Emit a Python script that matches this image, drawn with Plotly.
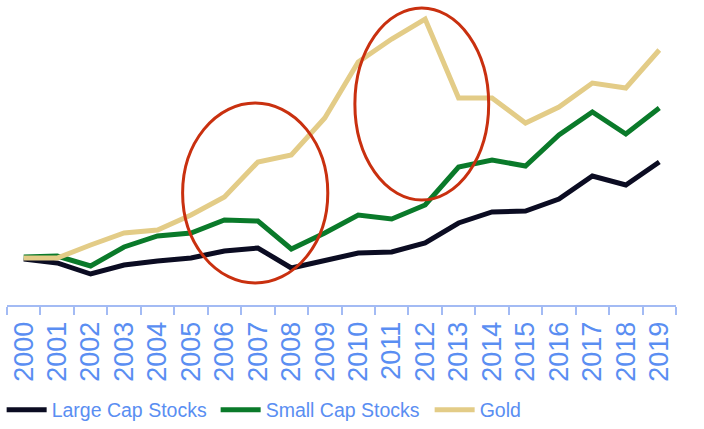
import plotly.graph_objects as go

years = [str(y) for y in range(2000, 2020)]
large_cap = [92, 84, 62, 80, 88, 94, 108, 114, 74, 90, 104, 106, 124, 164, 186, 188, 212, 258, 240, 286]
small_cap = [96, 98, 78, 116, 138, 144, 170, 168, 112, 144, 180, 172, 200, 276, 290, 278, 340, 386, 342, 394]
gold = [94, 94, 120, 144, 150, 180, 216, 286, 300, 374, 486, 532, 572, 414, 414, 364, 396, 444, 434, 510]

series = [
    ("Large Cap Stocks", large_cap, "#0b0c22"),
    ("Small Cap Stocks", small_cap, "#0a7a2a"),
    ("Gold", gold, "#e3cc87"),
]

fig = go.Figure()
for name, vals, col in series:
    fig.add_trace(go.Scatter(x=years, y=vals, name=name, mode="lines",
                             line=dict(color=col, width=5)))

red = "#c9300f"
fig.add_shape(type="circle", xref="x", yref="y", x0=4.75, x1=9.09, y0=44, y1=404,
              line=dict(color=red, width=3))
fig.add_shape(type="circle", xref="x", yref="y", x0=9.9, x1=13.9, y0=210, y1=594,
              line=dict(color=red, width=3))

blue = "#5a8ef2"
fig.update_layout(
    width=704, height=429,
    margin=dict(l=7, r=28, t=5, b=124, autoexpand=False),
    plot_bgcolor="white", paper_bgcolor="white",
    showlegend=True,
    legend=dict(orientation="h", x=-0.008, xanchor="left", y=-0.35, yanchor="middle",
                font=dict(family="Liberation Sans, Arial", size=19.5, color=blue),
                itemwidth=40, entrywidth=159, traceorder="normal"),
    xaxis=dict(type="category", showgrid=False, zeroline=False, showline=True,
               linecolor="#a3bbf4", linewidth=2, ticks="outside", tickson="boundaries",
               ticklen=8, tickcolor="#a3bbf4", tickwidth=2, tickangle=-90, automargin=False,
               ticklabelstandoff=4,
               tickfont=dict(family="Liberation Sans, Arial", size=27, color=blue),
               range=[-0.5, 19.5]),
    yaxis=dict(visible=False, range=[0, 600], automargin=False),
)

fig.write_html("out.html", config={"displayModeBar": False},
               post_script="document.body.style.margin='0';")
